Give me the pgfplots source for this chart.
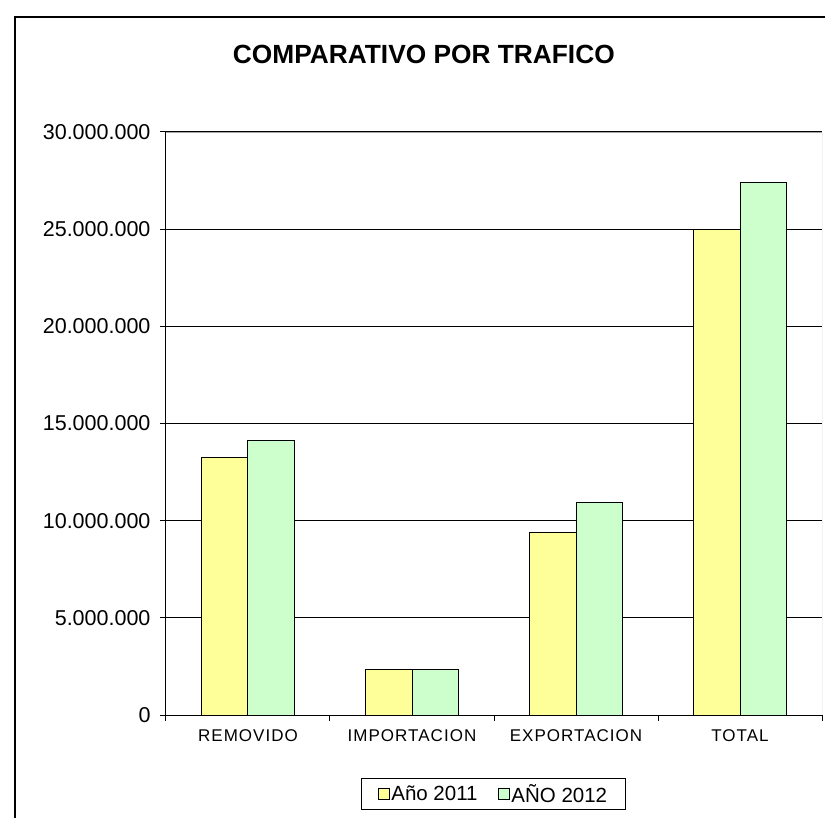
\documentclass[border=0pt]{standalone}
\usepackage{fontspec}
\setmainfont{Liberation Sans}
\newfontfamily\spaced[LetterSpace=6]{Liberation Sans}
\usepackage{pgfplots}
\pgfplotsset{compat=1.18}
\definecolor{yel}{HTML}{FFFF99}
\definecolor{grn}{HTML}{CCFFCC}
\begin{document}
\begin{tikzpicture}[x=1pt,y=1pt]
\useasboundingbox (-166,-102) rectangle (659,715);
\fill[white] (-166,-102) rectangle (659,715);
\draw[black, line width=1.5pt] (-151,-130) rectangle (700,698);
\begin{axis}[
  at={(0,0)}, anchor=south west,
  scale only axis, width=656pt, height=583pt,
  ymin=0, ymax=30000000,
  ytick={0,5000000,10000000,15000000,20000000,25000000,30000000},
  scaled y ticks=false,
  /pgf/number format/fixed,
  /pgf/number format/1000 sep={.},
  /pgf/number format/assume math mode=true,
  yticklabel style={font=\fontsize{21.5}{25}\selectfont, xshift=-6pt},
  xmin=-0.5, xmax=3.5,
  xtick={-0.5,0.5,1.5,2.5,3.5},
  x tick label as interval,
  xticklabels={REMOVIDO,IMPORTACION,EXPORTACION,TOTAL},
  xticklabel style={font=\spaced\fontsize{17}{20}\selectfont, yshift=-5pt},
  tick align=outside,
  major tick length=6pt,
  tick style={black, line width=1pt},
  axis x line*=bottom, axis y line*=left,
  axis line style={-, black, line width=1pt},
  ymajorgrids, xmajorgrids=false, grid style={black, line width=1pt},
  ybar=0pt, bar width=0.2835,
  title={COMPARATIVO POR TRAFICO},
  title style={font=\bfseries\fontsize{26.3}{30}\selectfont, at={(0.393,1)}, anchor=center, yshift=72pt},
  legend style={at={(0.499,0)}, anchor=north, yshift=-63pt, legend columns=2, draw=black, line width=0.8pt,
    font=\fontsize{20.5}{24}\selectfont, inner xsep=16pt, inner ysep=4pt,
    /tikz/every even column/.append style={column sep=18pt}},
  legend image code/.code={\draw[#1, line width=0.8pt] (0pt,-5.5pt) rectangle (11pt,5.5pt);},
]
\addplot[fill=yel, draw=black, line width=1pt] coordinates {(0,13250000) (1,2350000) (2,9400000) (3,24980000)};
\addplot[fill=grn, draw=black, line width=1pt] coordinates {(0,14120000) (1,2350000) (2,10940000) (3,27380000)};
\legend{Año 2011, AÑO 2012}
\draw[gray!70, line width=0.8pt] (rel axis cs:0,1) -- (rel axis cs:1,1) -- (rel axis cs:1,0);
\end{axis}
\end{tikzpicture}
\end{document}
